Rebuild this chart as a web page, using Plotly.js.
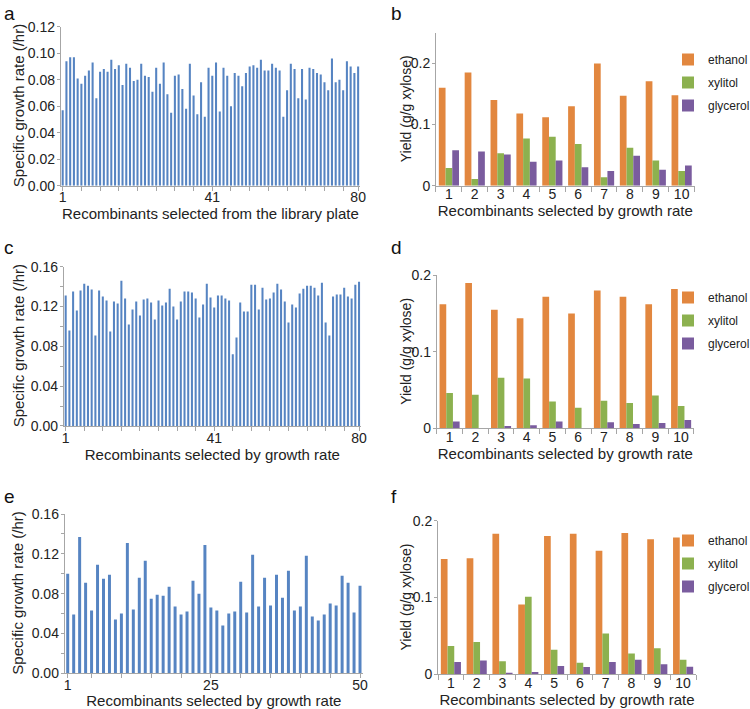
<!DOCTYPE html>
<html>
<head>
<meta charset="utf-8">
<script src="https://cdn.plot.ly/plotly-3.0.1.min.js"></script>
<style>html,body{margin:0;padding:0;background:#fff;}#chart{width:750px;height:709px;}</style>
</head>
<body>
<div id="chart"></div>
<script>
// ---------- Data ----------
const growthA = [0.057,0.094,0.097,0.097,0.081,0.077,0.083,0.087,0.093,0.066,
  0.086,0.088,0.086,0.095,0.088,0.091,0.076,0.092,0.089,0.079,
  0.080,0.092,0.083,0.082,0.071,0.089,0.077,0.093,0.069,0.055,
  0.083,0.084,0.073,0.058,0.092,0.068,0.054,0.078,0.052,0.089,
  0.083,0.093,0.056,0.089,0.083,0.060,0.085,0.083,0.075,0.085,
  0.090,0.091,0.089,0.095,0.087,0.087,0.092,0.089,0.087,0.052,
  0.072,0.092,0.088,0.066,0.088,0.065,0.089,0.088,0.085,0.084,
  0.078,0.072,0.096,0.078,0.080,0.072,0.094,0.090,0.085,0.090];
const growthC = [0.131,0.096,0.135,0.116,0.136,0.143,0.141,0.137,0.091,0.136,
  0.130,0.126,0.095,0.125,0.123,0.146,0.128,0.102,0.117,0.125,
  0.111,0.127,0.128,0.124,0.107,0.126,0.121,0.124,0.138,0.120,
  0.107,0.125,0.135,0.135,0.134,0.128,0.109,0.122,0.143,0.129,
  0.119,0.131,0.131,0.128,0.126,0.072,0.089,0.124,0.115,0.115,
  0.142,0.142,0.117,0.139,0.127,0.128,0.134,0.143,0.137,0.125,
  0.104,0.122,0.119,0.133,0.138,0.141,0.141,0.139,0.131,0.144,
  0.104,0.091,0.130,0.132,0.132,0.139,0.130,0.128,0.142,0.145];
const growthE = [0.100,0.059,0.137,0.091,0.063,0.109,0.095,0.099,0.054,0.060,
  0.131,0.064,0.096,0.113,0.075,0.079,0.078,0.087,0.067,0.059,
  0.062,0.093,0.080,0.129,0.066,0.063,0.048,0.060,0.062,0.092,
  0.061,0.119,0.067,0.096,0.068,0.099,0.076,0.103,0.063,0.067,
  0.118,0.057,0.053,0.059,0.070,0.068,0.098,0.091,0.061,0.088];
const recombA = growthA.map((_, i) => i + 1);
const recombC = growthC.map((_, i) => i + 1);
const recombE = growthE.map((_, i) => i + 1);

const topTen = ['1','2','3','4','5','6','7','8','9','10'];
const ethanolB = [0.160,0.185,0.140,0.118,0.112,0.130,0.200,0.147,0.171,0.148];
const xylitolB = [0.029,0.011,0.053,0.077,0.080,0.068,0.014,0.062,0.041,0.024];
const glycerolB = [0.058,0.056,0.051,0.039,0.041,0.030,0.024,0.049,0.026,0.033];
const ethanolD = [0.162,0.190,0.155,0.144,0.172,0.150,0.180,0.172,0.162,0.182];
const xylitolD = [0.046,0.044,0.066,0.065,0.035,0.027,0.036,0.033,0.043,0.029];
const glycerolD = [0.009,0.0005,0.003,0.004,0.009,0.0005,0.008,0.0055,0.007,0.011];
const ethanolF = [0.150,0.151,0.183,0.091,0.180,0.183,0.161,0.184,0.176,0.178];
const xylitolF = [0.037,0.042,0.017,0.101,0.032,0.015,0.053,0.027,0.034,0.019];
const glycerolF = [0.016,0.018,0.002,0.003,0.011,0.0095,0.016,0.019,0.013,0.010];

const ticksA = [1,6,11,16,21,26,31,36,41,46,51,56,61,66,71,76,80];
const ticksE = [1,5,10,15,20,25,30,35,40,45,50];
const labelledA = [1,41,80];
const labelledE = [1,25,50];

const growthTitle = 'Specific growth rate (/hr)';
const yieldTitle = 'Yield (g/g xylose)';

// ---------- Styles ----------
const BLUE = '#5684c2', ORANGE = '#e2873f', GREEN = '#8cb14f', PURPLE = '#7a5c9e';
const AXC = '#a6a6a6';
const FONT = 'Liberation Sans, Arial, Helvetica, sans-serif';

function growthTrace(x, y, xa, ya, w) {
  return {type:'bar', x:x, y:y, xaxis:xa, yaxis:ya, width:w,
    marker:{color:BLUE, line:{width:0}}, showlegend:false, hoverinfo:'x+y'};
}
function yieldTrace(name, y, color, xa, ya, lg) {
  return {type:'bar', name:name, x:topTen, y:y, xaxis:xa, yaxis:ya, legend:lg,
    legendgroup:lg + '-' + name, marker:{color:color, line:{width:0}}};
}

const data = [
  growthTrace(recombA, growthA, 'x', 'y', 0.55),
  growthTrace(recombC, growthC, 'x3', 'y3', 0.55),
  growthTrace(recombE, growthE, 'x5', 'y5', 0.5),
  yieldTrace('ethanol', ethanolB, ORANGE, 'x2', 'y2', 'legend'),
  yieldTrace('xylitol', xylitolB, GREEN, 'x2', 'y2', 'legend'),
  yieldTrace('glycerol', glycerolB, PURPLE, 'x2', 'y2', 'legend'),
  yieldTrace('ethanol', ethanolD, ORANGE, 'x4', 'y4', 'legend2'),
  yieldTrace('xylitol', xylitolD, GREEN, 'x4', 'y4', 'legend2'),
  yieldTrace('glycerol', glycerolD, PURPLE, 'x4', 'y4', 'legend2'),
  yieldTrace('ethanol', ethanolF, ORANGE, 'x6', 'y6', 'legend3'),
  yieldTrace('xylitol', xylitolF, GREEN, 'x6', 'y6', 'legend3'),
  yieldTrace('glycerol', glycerolF, PURPLE, 'x6', 'y6', 'legend3')
];

const baseAxis = {showline:true, linecolor:AXC, linewidth:1, ticks:'outside', ticklen:4,
  tickcolor:AXC, showgrid:false, zeroline:false, automargin:false, tickangle:0,
  tickfont:{size:14, color:'#222', family:FONT}};

function growthX(domain, range, tv, lab, title) {
  return Object.assign({}, baseAxis, {domain:domain, range:range, tickmode:'array',
    tickvals:tv, ticktext:tv.map(v => lab.includes(v) ? String(v) : ''), ticklabelstandoff:-5,
    title:{text:title, font:{size:15, family:FONT, color:'#222'}, standoff:0}});
}
function growthY(domain, range, dtick, minor) {
  const ax = Object.assign({}, baseAxis, {domain:domain, range:range, dtick:dtick, tickformat:'.2f',
    ticklen:3, ticklabelstandoff:-1});
  if (minor) ax.minor = {dtick:minor, ticks:'outside', ticklen:3, tickcolor:AXC, showgrid:false};
  return ax;
}
function yieldX(domain) {
  return Object.assign({}, baseAxis, {domain:domain, type:'category', tickson:'boundaries', ticklen:5,
    ticklabelstandoff:-4,
    title:{text:'Recombinants selected by growth rate', font:{size:15, family:FONT, color:'#222'}, standoff:0}});
}
function yieldY(domain, range) {
  return Object.assign({}, baseAxis, {domain:domain, range:range, dtick:0.1, ticklen:3, ticklabelstandoff:-1});
}
function legendAt(xpx, ypx) {
  return {xref:'container', yref:'container', x:xpx / 750, y:1 - ypx / 709,
    xanchor:'left', yanchor:'top', bgcolor:'rgba(0,0,0,0)', borderwidth:0,
    font:{size:12, family:FONT, color:'#222'}, itemclick:false, tracegroupgap:4};
}
function panelLabel(t, x, y) {
  return {text:t, xref:'paper', yref:'paper', x:x, y:y, xanchor:'left', yanchor:'top',
    showarrow:false, font:{size:19, family:FONT, color:'#111'}};
}
function yTitle(t, xpx, yDomain, size) {
  return {text:t, xref:'paper', yref:'paper', x:xpx / 750, y:(yDomain[0] + yDomain[1]) / 2,
    xanchor:'center', yanchor:'middle', textangle:-90, showarrow:false,
    font:{size:size, family:FONT, color:'#222'}};
}

const dA = [0.7381,0.9623], dC = [0.3992,0.6238], dE = [0.0504,0.275];
const dB = [0.7381,0.9537], dD = [0.3959,0.6117], dF = [0.0489,0.2656];

const layout = {
  width:750, height:709, margin:{l:0, r:0, t:0, b:0, autoexpand:false},
  paper_bgcolor:'#fff', plot_bgcolor:'#fff',
  font:{family:FONT, size:14, color:'#222'},
  barmode:'group', bargap:0.22, bargroupgap:0,
  xaxis:growthX([0.0811,0.48], [0.5,80.5], ticksA, labelledA, 'Recombinants selected from the library plate'),
  yaxis:growthY(dA, [0,0.12], 0.02, null),
  xaxis3:growthX([0.0851,0.4812], [0.5,80.5], ticksA, labelledA, 'Recombinants selected by growth rate'),
  yaxis3:growthY(dC, [0,0.16], 0.04, 0.02),
  xaxis5:growthX([0.0863,0.484], [0.5,50.5], ticksE, labelledE, 'Recombinants selected by growth rate'),
  yaxis5:growthY(dE, [0,0.16], 0.04, 0.02),
  xaxis2:yieldX([0.5813,0.9261]),
  yaxis2:yieldY(dB, [0,0.25]),
  xaxis4:yieldX([0.5823,0.9253]),
  yaxis4:yieldY(dD, [0,0.2]),
  xaxis6:yieldX([0.584,0.928]),
  yaxis6:yieldY(dF, [0,0.2]),
  legend:legendAt(668, 45),
  legend2:legendAt(668, 283),
  legend3:legendAt(668, 526),
  annotations:[
    panelLabel('a', 0.002, 0.998), panelLabel('b', 0.518, 0.998),
    panelLabel('c', 0.002, 0.668), panelLabel('d', 0.518, 0.668),
    panelLabel('e', 0.002, 0.318), panelLabel('f', 0.518, 0.318),
    yTitle(growthTitle, 18, dA, 15), yTitle(growthTitle, 18, dC, 15), yTitle(growthTitle, 18, dE, 15),
    yTitle(yieldTitle, 406, dB, 14), yTitle(yieldTitle, 406, dD, 14), yTitle(yieldTitle, 406, dF, 14)
  ]
};
['xaxis','xaxis3','xaxis5','xaxis2','xaxis4','xaxis6'].forEach((k, i) => {
  layout[k].anchor = ['y','y3','y5','y2','y4','y6'][i];
});
['yaxis','yaxis3','yaxis5','yaxis2','yaxis4','yaxis6'].forEach((k, i) => {
  layout[k].anchor = ['x','x3','x5','x2','x4','x6'][i];
});

Plotly.newPlot('chart', data, layout, {staticPlot:true, displayModeBar:false});
</script>
</body>
</html>
